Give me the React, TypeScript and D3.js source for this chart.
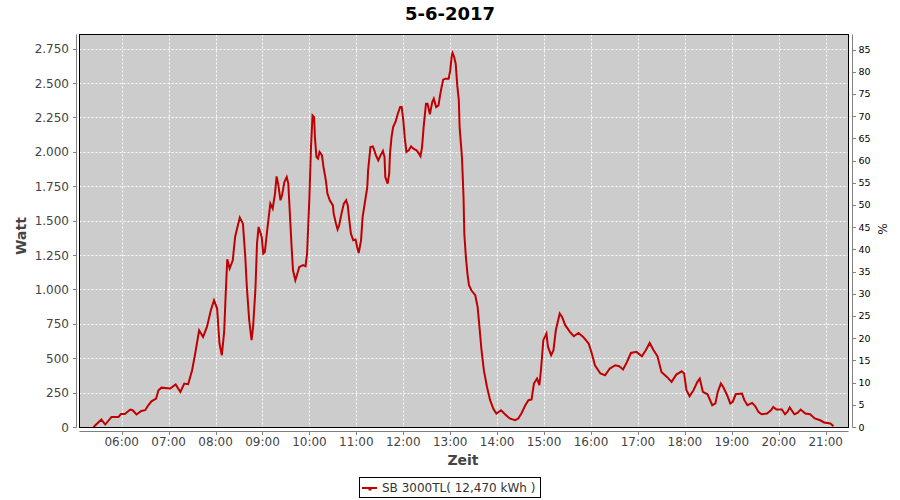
import React from 'react';
import * as d3 from 'd3';

const chartTitle = '5-6-2017';
const yAxisLabel = 'Watt';
const y2AxisLabel = '%';
const xAxisLabel = 'Zeit';
const legendLabel = 'SB 3000TL( 12,470 kWh )';

const times: string[] = [
  '05:24','05:34','05:39','05:47','05:56','05:59','06:04','06:11','06:14','06:19',
  '06:25','06:30','06:34','06:38','06:44','06:47','06:51','07:02','07:09','07:15',
  '07:20','07:25','07:30','07:34','07:39','07:44','07:49','07:54','07:58','08:02',
  '08:05','08:08','08:11','08:13','08:15','08:18','08:22','08:25','08:28','08:31',
  '08:35','08:38','08:40','08:43','08:46','08:48','08:51','08:53','08:55','08:59',
  '09:01','09:03','09:06','09:09','09:10','09:13','09:16','09:18','09:20','09:23',
  '09:25','09:28','09:31','09:33','09:35','09:37','09:39','09:42','09:44','09:47',
  '09:52','09:55','09:57','10:00','10:02','10:04','10:06','10:07','10:09','10:11',
  '10:13','10:16','10:18','10:21','10:23','10:26','10:30','10:31','10:34','10:36',
  '10:38','10:41','10:44','10:47','10:49','10:51','10:53','10:56','10:59','11:01',
  '11:03','11:06','11:08','11:10','11:12','11:14','11:15','11:18','11:21','11:23',
  '11:25','11:28','11:31','11:34','11:36','11:37','11:40','11:42','11:43','11:45',
  '11:47','11:50','11:53','11:56','11:58','12:00','12:02','12:04','12:07','12:10',
  '12:13','12:17','12:20','12:22','12:24','12:26','12:29','12:31','12:34','12:37',
  '12:39','12:42','12:45','12:47','12:49','12:51','12:54','12:58','13:00','13:02',
  '13:03','13:05','13:07','13:09','13:11','13:12','13:15','13:17','13:18','13:20',
  '13:22','13:24','13:27','13:32','13:35','13:37','13:40','13:43','13:47','13:51',
  '13:55','13:59','14:05','14:10','14:16','14:23','14:27','14:31','14:36','14:40',
  '14:44','14:47','14:51','14:54','14:56','14:59','15:03','15:05','15:09','15:12',
  '15:15','15:20','15:23','15:27','15:33','15:38','15:44','15:50','15:57','16:01',
  '16:05','16:12','16:18','16:24','16:31','16:36','16:41','16:46','16:51','16:58',
  '17:05','17:10','17:15','17:20','17:25','17:30','17:37','17:43','17:49','17:56',
  '17:59','18:02','18:06','18:11','18:16','18:19','18:23','18:29','18:35','18:39',
  '18:42','18:46','18:49','18:54','18:58','19:01','19:05','19:13','19:16','19:20',
  '19:26','19:30','19:34','19:38','19:45','19:50','19:53','19:57','20:04','20:08',
  '20:11','20:14','20:20','20:24','20:28','20:34','20:40','20:46','20:53','20:58',
  '21:06','21:10'
];

const watts: number[] = [
  0,54,18,73,73,95,95,127,122,91,
  117,122,158,187,207,267,286,280,309,255,
  316,311,413,534,703,655,727,849,921,861,
  607,522,691,970,1219,1152,1212,1381,1454,1522,
  1478,1236,1018,776,631,727,1006,1333,1454,1381,
  1261,1272,1430,1575,1624,1587,1697,1822,1769,1648,
  1684,1781,1817,1769,1551,1333,1139,1067,1103,1163,
  1176,1168,1261,1672,2035,2265,2253,2108,1962,1951,
  1999,1975,1890,1793,1697,1648,1611,1551,1478,1437,
  1466,1551,1624,1648,1611,1502,1406,1357,1362,1309,
  1265,1357,1526,1599,1672,1744,1866,2035,2040,2011,
  1975,1938,1975,2006,1962,1817,1769,1842,1987,2108,
  2180,2217,2277,2326,2326,2229,2096,1999,2011,2040,
  2023,2011,1987,1968,2035,2180,2350,2350,2273,2362,
  2387,2326,2338,2411,2471,2525,2532,2532,2592,2701,
  2720,2690,2641,2483,2374,2180,1962,1672,1406,1236,
  1115,1030,994,958,873,752,558,413,291,195,
  134,98,122,93,62,49,62,98,158,195,
  200,316,352,304,413,631,679,582,522,558,
  703,825,800,740,691,660,684,655,607,534,
  449,389,376,425,449,442,418,473,538,546,
  514,558,611,558,514,400,364,328,381,405,
  389,267,224,267,328,352,255,238,158,171,
  255,316,291,231,171,182,238,243,195,158,
  175,151,110,93,98,122,146,127,127,93,
  110,142,93,102,127,98,93,62,49,33,
  25,6
];

const wattTicks = [0, 250, 500, 750, 1000, 1250, 1500, 1750, 2000, 2250, 2500, 2750];
const pctTicks = [0, 5, 10, 15, 20, 25, 30, 35, 40, 45, 50, 55, 60, 65, 70, 75, 80, 85];
const hourTicks = [6, 7, 8, 9, 10, 11, 12, 13, 14, 15, 16, 17, 18, 19, 20, 21];

const fmtW = (v: number) => d3.format(',')(v).replace(/,/g, '.').replace(/^(\d)\.(\d{3})$/, '$1.$2');
const fmtW2 = (v: number) => (v >= 1000 ? `${Math.floor(v / 1000)}.${String(v % 1000).padStart(3, '0')}` : String(v));

export default function App() {
  const left = 79.5, right = 848.5, top = 34.5, bottom = 427.5;
  const parseT = (s: string) => {
    const [h, m] = s.split(':').map(Number);
    return h + m / 60;
  };
  const x = d3.scaleLinear().domain([5.101, 21.486]).range([left, right]);
  const y = d3.scaleLinear().domain([0, 2853]).range([427, top]);
  const yp = d3.scaleLinear().domain([0, 88.4]).range([427, top]);

  const data = times.map((t, i) => ({ t: parseT(t), w: watts[i] }));
  const line = d3.line<{ t: number; w: number }>().x(d => x(d.t)).y(d => y(d.w));

  const font = 'DejaVu Sans, sans-serif';
  const fmtHour = (h: number) => `${String(h).padStart(2, '0')}:00`;

  return (
    <svg width={900} height={500} style={{ position: 'absolute', left: 0, top: 0, background: '#fff' }}>
      <rect x={0} y={0} width={900} height={500} fill="#fff" />
      <text x={450} y={20} textAnchor="middle" fontFamily={font} fontWeight="bold" fontSize={18} fill="#000">
        {chartTitle}
      </text>

      {/* plot background */}
      <rect x={left} y={top} width={right - left} height={bottom - top} fill="#cccccc" />

      {/* gridlines */}
      {wattTicks.filter(v => v > 0).map(v => (
        <line key={'gy' + v} x1={left} x2={right} y1={Math.round(y(v)) + 0.5} y2={Math.round(y(v)) + 0.5}
          stroke="#fff" strokeWidth={1} strokeDasharray="2,2" />
      ))}
      {hourTicks.map(h => (
        <line key={'gx' + h} x1={Math.round(x(h)) + 0.5} x2={Math.round(x(h)) + 0.5} y1={top} y2={bottom}
          stroke="#fff" strokeWidth={1} strokeDasharray="2,2" />
      ))}

      {/* series */}
      <path d={line(data) || ''} fill="none" stroke="#c00000" strokeWidth={2} strokeLinejoin="miter" />

      {/* plot outline */}
      <rect x={left} y={top} width={right - left} height={bottom - top} fill="none" stroke="#000" strokeWidth={1} />

      {/* left axis */}
      <line x1={76.5} x2={76.5} y1={top} y2={bottom} stroke="#808080" />
      {wattTicks.map(v => (
        <g key={'yl' + v}>
          <line x1={73} x2={76.5} y1={Math.round(y(v)) + 0.5} y2={Math.round(y(v)) + 0.5} stroke="#808080" />
          <text x={69} y={y(v) + 4.5} textAnchor="end" fontFamily={font} fontSize={12} fill="#444">
            {fmtW2(v)}
          </text>
        </g>
      ))}
      <text transform={`translate(26,236) rotate(-90)`} textAnchor="middle" fontFamily={font} fontWeight="bold" fontSize={14} fill="#444">
        {yAxisLabel}
      </text>

      {/* right axis */}
      <line x1={852.5} x2={852.5} y1={top} y2={bottom} stroke="#808080" />
      {pctTicks.map(v => (
        <g key={'yr' + v}>
          <line x1={852.5} x2={856} y1={Math.round(yp(v)) + 0.5} y2={Math.round(yp(v)) + 0.5} stroke="#808080" />
          <text x={858.5} y={yp(v) + 3.5} textAnchor="start" fontFamily={font} fontSize={9.5} fill="#000">
            {v}
          </text>
        </g>
      ))}
      <text transform={`translate(878,229) rotate(90)`} textAnchor="middle" fontFamily={font} fontSize={12} fill="#222">
        {y2AxisLabel}
      </text>

      {/* bottom axis */}
      <line x1={left} x2={right} y1={431.5} y2={431.5} stroke="#808080" />
      {hourTicks.map(h => (
        <g key={'xt' + h}>
          <line x1={Math.round(x(h)) + 0.5} x2={Math.round(x(h)) + 0.5} y1={431.5} y2={435} stroke="#808080" />
          <text x={x(h)} y={446} textAnchor="middle" fontFamily={font} fontSize={12} fill="#444">
            {fmtHour(h)}
          </text>
        </g>
      ))}
      <text x={463} y={465} textAnchor="middle" fontFamily={font} fontWeight="bold" fontSize={14} fill="#444">
        {xAxisLabel}
      </text>

      {/* legend */}
      <rect x={359.5} y={477.5} width={181} height={20} fill="#fff" stroke="#000" strokeWidth={1} />
      <line x1={362} x2={377} y1={488} y2={488} stroke="#c00000" strokeWidth={2} />
      <rect x={368.5} y={488} width={3} height={2.5} fill="#c00000" />
      <text x={382} y={492} fontFamily={font} fontSize={12} fill="#333">
        {legendLabel}
      </text>
    </svg>
  );
}
